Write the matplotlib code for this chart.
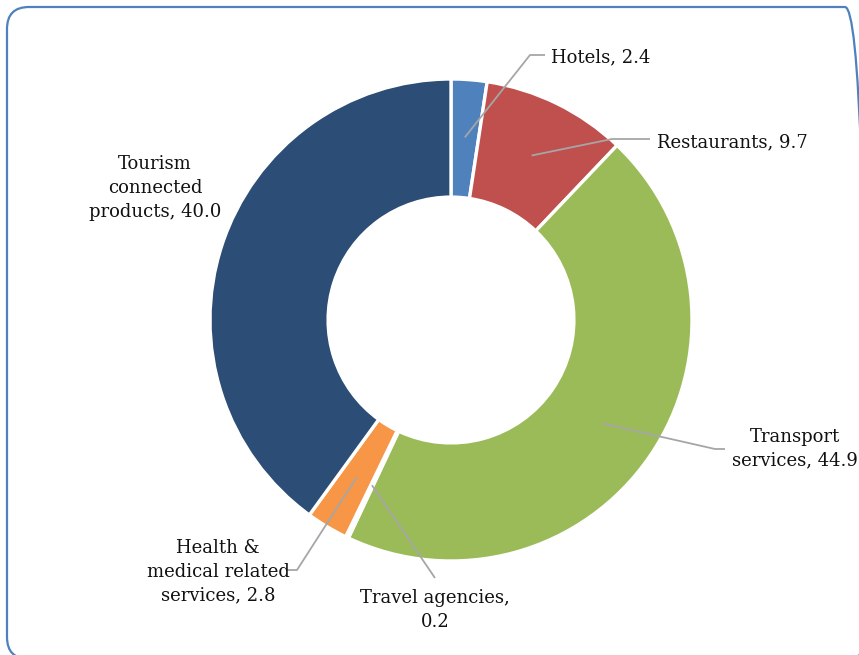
import numpy as np
import matplotlib
matplotlib.use('Agg')
import matplotlib.pyplot as plt
from matplotlib.patches import FancyBboxPatch

labels = ['Hotels', 'Restaurants', 'Transport\nservices', 'Travel agencies,\n',
          'Health &\nmedical related\nservices', 'Tourism\nconnected\nproducts']
values = [2.4, 9.7, 44.9, 0.2, 2.8, 40.0]
colors = ['#4F81BD', '#C0504D', '#9BBB59', '#8064A2', '#F79646', '#2C4D75']

# layout, in pixels from top-left (text centre, elbow points of leader)
text_pos = [(601, 57), (732, 142), (795, 449), (435, 610), (218, 572), (155, 188)]
elbows = [[(530, 55), (545, 55)], [(612, 139), (650, 139)], [(715, 449), (725, 449)],
          [(435, 578)], [(297, 570), (287, 570)], None]

W, H = 859, 655
cx, cy, R = 451, 320, 241

plt.rcParams['font.family'] = 'DejaVu Serif'
fig = plt.figure(figsize=(W / 100, H / 100), dpi=100)
ax = fig.add_axes([0, 0, 1, 1])

wedges, _ = ax.pie(values, colors=colors, startangle=90, counterclock=False,
                   center=(cx, H - cy), radius=R,
                   wedgeprops=dict(width=R * 0.49, edgecolor='white', linewidth=2.4))
ax.set_xlim(0, W)
ax.set_ylim(0, H)
ax.set_aspect('auto')
ax.axis('off')

for i, w in enumerate(wedges):
    mid = np.deg2rad((w.theta1 + w.theta2) / 2)
    r = R * 0.76
    ax_x = cx + r * np.cos(mid)
    ax_y = (H - cy) + r * np.sin(mid)
    if elbows[i] is not None:
        xs = [ax_x] + [p[0] for p in elbows[i]]
        ys = [ax_y] + [H - p[1] for p in elbows[i]]
        ax.plot(xs, ys, color='#A6A6A6', lw=1.3, solid_capstyle='butt')
    if labels[i].endswith(',\n'):
        txt = labels[i] + '%.1f' % values[i]
    else:
        txt = labels[i] + ', %.1f' % values[i]
    tx, ty = text_pos[i]
    ax.text(tx, H - ty, txt, ha='center', va='center', fontsize=13,
            linespacing=1.4, color='#111111')

# outer rounded frame, right edge falls just outside the picture
frame = FancyBboxPatch((7, -4), 860, 652, boxstyle='round,pad=0,rounding_size=22',
                       facecolor='none', edgecolor='#4F81BD', lw=1.6,
                       transform=None, clip_on=False)
fig.patches.append(frame)

plt.savefig('out.png', dpi=100)
